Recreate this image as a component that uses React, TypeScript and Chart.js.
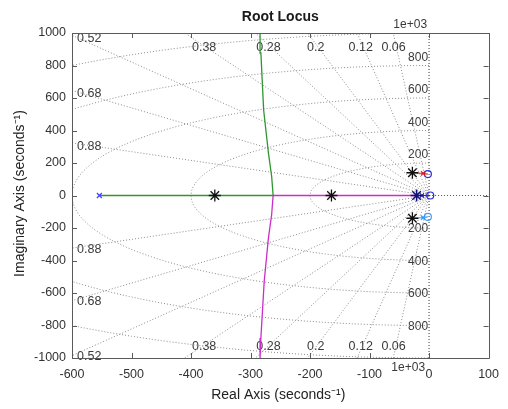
import React, { useEffect, useRef } from "react";
import { Chart, registerables } from "chart.js";

Chart.register(...registerables);

// ---- axes / ticks ----
const xTickValues = [-600, -500, -400, -300, -200, -100, 0, 100];
const yTickValues = [-1000, -800, -600, -400, -200, 0, 200, 400, 600, 800, 1000];

// ---- s-plane grid (damping ratios and natural frequencies) ----
const dampingRatios = [0.06, 0.12, 0.2, 0.28, 0.38, 0.52, 0.68, 0.88];
const dampingLabels = ["0.06", "0.12", "0.2", "0.28", "0.38", "0.52", "0.68", "0.88"];
const naturalFreqs = [200, 400, 600, 800, 1000];
const freqLabels = ["200", "400", "600", "800", "1e+03"];

// ---- root locus branches ----
const greenBranchX = [-554, -262, -264.5, -270, -278, -282.6, -284];
const greenBranchY = [0, 0, 117, 264, 528, 877, 1000];
const magentaBranchX = [-21, -262, -264.5, -270, -277, -282.6, -284];
const magentaBranchY = [0, 0, -117, -264, -528, -877, -1000];
const redBranchX = [-28, -14, -2];
const redBranchY = [140, 137, 132];
const cyanBranchX = [-28, -14, -2];
const cyanBranchY = [-140, -137, -132];
const blueBranchX = [-21, -8, 2];
const blueBranchY = [0, 0, 0];

// ---- markers ----
const openPoleX = [-554];
const openPoleY = [0];
const nearPoleX = [-10, -10, -12];
const nearPoleY = [136, -136, 0];
const nearPoleColors = ["#e02020", "#3399ff", "#1a1aa0"];
const closedPoleX = [-360, -164, -28, -28];
const closedPoleY = [0, 0, 140, -140];
const centerPoleX = [-21];
const centerPoleY = [0];
const zeroX = [-2, 2, -2];
const zeroY = [132, 0, -132];
const zeroColors = ["#2a2ae0", "#2a2ae0", "#4a9cf0"];

const FONT = '"Liberation Sans", Arial, Helvetica, sans-serif';

function pts(xs: number[], ys: number[]) {
  return xs.map((x, i) => ({ x, y: ys[i] }));
}

function circlePts(r: number) {
  const out: { x: number; y: number }[] = [];
  const n = 120;
  for (let i = 0; i <= n; i++) {
    const a = Math.PI / 2 + (Math.PI * i) / n;
    out.push({ x: r * Math.cos(a), y: r * Math.sin(a) });
  }
  return out;
}

function rayPts(z: number) {
  const R = 5000;
  const s = Math.sqrt(1 - z * z);
  return [
    { x: -R * z, y: R * s },
    { x: 0, y: 0 },
    { x: -R * z, y: -R * s },
  ];
}

const decor = {
  id: "decor",
  beforeDatasetsDraw(chart: any) {
    const { ctx, chartArea: a, scales } = chart;
    const x = scales.x;
    const y = scales.y;
    ctx.save();
    ctx.fillStyle = "#3a3a3a";
    ctx.font = `12.5px ${FONT}`;
    ctx.textBaseline = "middle";
    const topRow = a.top + 15;
    const botRow = a.bottom - 11;
    dampingRatios.forEach((z, i) => {
      const s = Math.sqrt(1 - (z * z));
      const realAtTop = (-1000 * z) / s;
      if (realAtTop >= -600) {
        const yv = y.getValueForPixel(topRow);
        const px = x.getPixelForValue((-yv * z) / s) - 3;
        ctx.textAlign = "center";
        ctx.fillText(dampingLabels[i], px, topRow);
        ctx.fillText(dampingLabels[i], px, botRow);
      } else {
        const im = (600 * s) / z;
        ctx.textAlign = "left";
        ctx.fillText(dampingLabels[i], a.left + 5, y.getPixelForValue(im) + 3.5);
        ctx.fillText(dampingLabels[i], a.left + 5, y.getPixelForValue(-im) + 1);
      }
    });
    // natural frequency labels
    ctx.font = `12px ${FONT}`;
    ctx.textAlign = "right";
    const x0 = x.getPixelForValue(0);
    naturalFreqs.forEach((f, i) => {
      if (f < 1000) {
        ctx.fillText(freqLabels[i], x0 - 1, y.getPixelForValue(f) - 8);
        ctx.fillText(freqLabels[i], x0 - 1, y.getPixelForValue(-f) + 1);
      } else {
        ctx.fillText(freqLabels[i], x0 - 2, a.top - 8);
        ctx.fillText(freqLabels[i], x0 - 4, a.bottom + 10);
      }
    });
    ctx.restore();
  },
  afterDatasetsDraw(chart: any) {
    const { ctx, chartArea: a, scales } = chart;
    const x = scales.x;
    const y = scales.y;
    ctx.save();
    ctx.strokeStyle = "#5a5a5a";
    ctx.lineWidth = 1;
    ctx.beginPath();
    ctx.rect(Math.round(a.left) + 0.5, Math.round(a.top) + 0.5, Math.round(a.right - a.left), Math.round(a.bottom - a.top));
    ctx.stroke();
    const tl = 5;
    ctx.beginPath();
    xTickValues.forEach((v) => {
      const px = Math.round(x.getPixelForValue(v)) + 0.5;
      ctx.moveTo(px, a.bottom);
      ctx.lineTo(px, a.bottom - tl);
      ctx.moveTo(px, a.top);
      ctx.lineTo(px, a.top + tl);
    });
    yTickValues.forEach((v) => {
      const py = Math.round(y.getPixelForValue(v)) + 0.5;
      ctx.moveTo(a.left, py);
      ctx.lineTo(a.left + tl, py);
      ctx.moveTo(a.right, py);
      ctx.lineTo(a.right - tl, py);
    });
    ctx.stroke();

    // title and axis titles
    ctx.fillStyle = "#1a1a1a";
    ctx.textAlign = "center";
    ctx.textBaseline = "middle";
    ctx.font = `bold 14px ${FONT}`;
    ctx.fillText("Root Locus", (a.left + a.right) / 2, 17);
    ctx.font = `14px ${FONT}`;
    ctx.fillStyle = "#222";
    ctx.fillText("Real Axis (seconds\u207B\u00B9)", (a.left + a.right) / 2 - 2, 395);
    ctx.translate(20, (a.top + a.bottom) / 2 - 2);
    ctx.rotate(-Math.PI / 2);
    ctx.fillText("Imaginary Axis (seconds\u207B\u00B9)", 0, 0);
    ctx.restore();
  },
};

export default function App() {
  const ref = useRef<HTMLCanvasElement | null>(null);

  useEffect(() => {
    document.body.style.margin = "0";
    const canvas = ref.current!;
    const gridLine = {
      showLine: true,
      pointRadius: 0,
      borderColor: "#8c8c8c",
      borderWidth: 1,
      borderDash: [1, 2],
      fill: false,
      order: 10,
    };
    const lineDs = (data: any[], color: string, w = 1.2) => ({
      data,
      showLine: true,
      pointRadius: 0,
      borderColor: color,
      backgroundColor: color,
      borderWidth: w,
      borderDash: [],
      order: 2,
    });
    const datasets: any[] = [];

    // locus lines
    datasets.push(lineDs(pts(greenBranchX, greenBranchY), "#2e962e", 1.3));
    datasets.push(lineDs(pts(magentaBranchX, magentaBranchY), "#cc2ccc", 1.3));
    datasets.push(lineDs(pts(redBranchX, redBranchY), "#e02020"));
    datasets.push(lineDs(pts(cyanBranchX, cyanBranchY), "#3399ff"));
    datasets.push(lineDs(pts(blueBranchX, blueBranchY), "#2222cc"));

    // markers
    datasets.push({ data: pts(openPoleX, openPoleY), showLine: false, pointStyle: "crossRot", pointRadius: 3.5, borderColor: "#4444ff", borderWidth: 1.2, order: 1 });
    datasets.push({ data: pts(nearPoleX, nearPoleY), showLine: false, pointStyle: "crossRot", pointRadius: 3, borderColor: nearPoleColors, pointBorderColor: nearPoleColors, borderWidth: 1.2, order: 1 });
    datasets.push({ data: pts(zeroX, zeroY), showLine: false, pointStyle: "circle", pointRadius: 3.5, borderColor: zeroColors, pointBorderColor: zeroColors, backgroundColor: "rgba(0,0,0,0)", pointBackgroundColor: "rgba(0,0,0,0)", borderWidth: 1.2, order: 1 });
    datasets.push({ data: pts(closedPoleX, closedPoleY), showLine: false, pointStyle: "star", pointRadius: 6, borderColor: "#111", borderWidth: 1.3, order: 0 });
    datasets.push({ data: pts(centerPoleX, centerPoleY), showLine: false, pointStyle: "star", pointRadius: 6, borderColor: "#10107a", borderWidth: 1.5, order: 0 });

    // axis lines (zeta = 0 line and positive real axis)
    datasets.push({ ...gridLine, data: [{ x: 0, y: -1000 }, { x: 0, y: 1000 }], borderColor: "#333", order: 9 });
    datasets.push({ ...gridLine, data: [{ x: 0, y: 0 }, { x: 100, y: 0 }], borderColor: "#555", order: 9 });

    // grid
    naturalFreqs.forEach((r) => datasets.push({ ...gridLine, data: circlePts(r) }));
    dampingRatios.forEach((z) => datasets.push({ ...gridLine, data: rayPts(z) }));

    const chart = new Chart(canvas, {
      type: "scatter",
      data: { datasets },
      plugins: [decor],
      options: {
        responsive: false,
        animation: false,
        events: [],
        layout: { padding: { left: 0, right: 12, top: 33, bottom: 0 } },
        plugins: { legend: { display: false }, tooltip: { enabled: false }, title: { display: false } },
        elements: { line: { tension: 0 } },
        scales: {
          x: {
            type: "linear",
            min: -600,
            max: 100,
            grid: { display: false, drawTicks: false },
            border: { display: false },
            afterBuildTicks: (s: any) => {
              s.ticks = xTickValues.map((v) => ({ value: v }));
            },
            afterFit: (s: any) => {
              s.height = 51;
            },
            ticks: {
              padding: 9,
              color: "#333",
              font: { family: FONT, size: 12.5 },
              maxRotation: 0,
              autoSkip: false,
              callback: (v: any) => String(v),
            },
          },
          y: {
            type: "linear",
            min: -1000,
            max: 1000,
            grid: { display: false, drawTicks: false },
            border: { display: false },
            afterBuildTicks: (s: any) => {
              s.ticks = yTickValues.map((v) => ({ value: v }));
            },
            afterFit: (s: any) => {
              s.width = 72;
            },
            ticks: {
              padding: 6,
              color: "#333",
              font: { family: FONT, size: 12.5 },
              autoSkip: false,
              callback: (v: any) => String(v),
            },
          },
        },
      } as any,
    });
    return () => chart.destroy();
  }, []);

  return (
    <div style={{ width: 508, height: 409, background: "#fff", position: "relative" }}>
      <canvas ref={ref} width={508} height={409} style={{ display: "block", width: 508, height: 409 }} />
    </div>
  );
}
